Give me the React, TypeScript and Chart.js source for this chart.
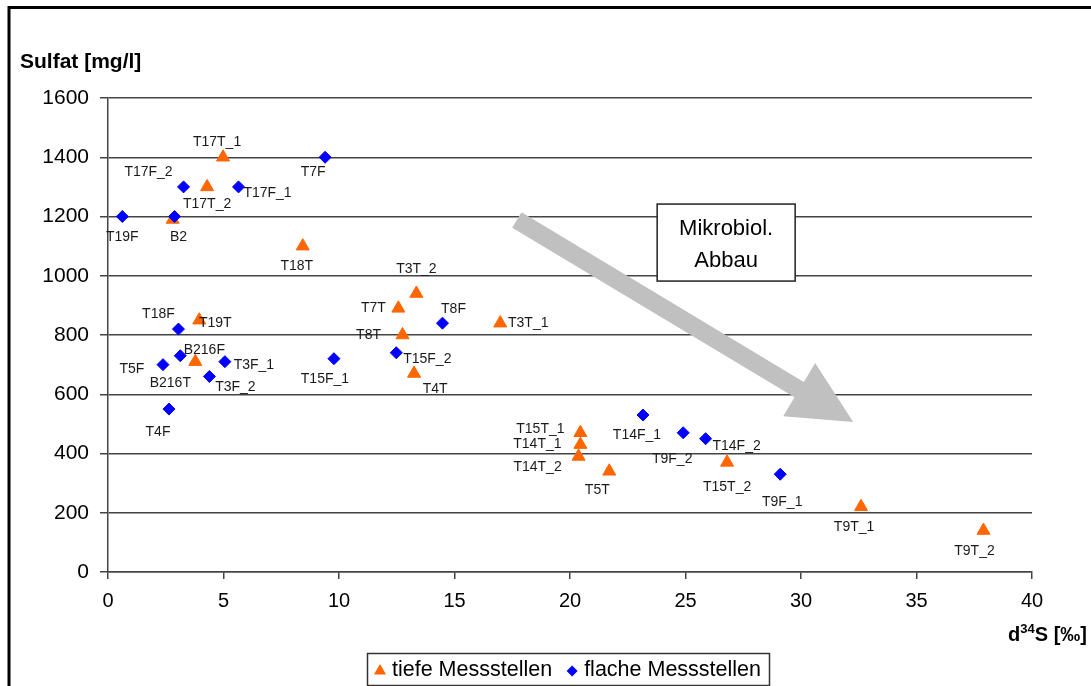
import React, { useEffect, useRef } from 'react';
import { Chart, registerables } from 'chart.js';

Chart.register(...registerables);

// ---------- data ----------
const tiefeLabels = ['T17T_1', 'T17T_2', 'B2', 'T18T', 'T19T', 'B216T', 'T3T_2', 'T7T', 'T8T', 'T3T_1', 'T4T', 'T15T_1', 'T14T_1', 'T14T_2', 'T5T', 'T15T_2', 'T9T_1', 'T9T_2'];
const tiefeX = [4.98, 4.29, 2.8, 8.43, 3.95, 3.78, 13.35, 12.57, 12.75, 16.98, 13.25, 20.45, 20.45, 20.37, 21.7, 26.8, 32.6, 37.9];
const tiefeY = [1400, 1300, 1190, 1100, 850, 710, 940, 890, 800, 840, 670, 470, 430, 390, 340, 370, 220, 140];

const flacheLabels = ['T19F', 'B2', 'T17F_2', 'T17F_1', 'T7F', 'T18F', 'B216F', 'T5F', 'T3F_1', 'T3F_2', 'T4F', 'T8F', 'T15F_2', 'T15F_1', 'T14F_1', 'T9F_2', 'T14F_2', 'T9F_1'];
const flacheX = [0.62, 2.88, 3.27, 5.65, 9.4, 3.05, 3.13, 2.38, 5.06, 4.39, 2.64, 14.48, 12.48, 9.78, 23.16, 24.9, 25.87, 29.1];
const flacheY = [1200, 1200, 1300, 1300, 1400, 820, 730, 700, 710, 660, 550, 840, 740, 720, 530, 470, 450, 330];

const seriesNames = ['tiefe Messstellen', 'flache Messstellen'];
const xTicks = [0, 5, 10, 15, 20, 25, 30, 35, 40];
const yTicks = [0, 200, 400, 600, 800, 1000, 1200, 1400, 1600];

const yTitle = 'Sulfat [mg/l]';
const xTitleParts = ['d', '34', 'S [‰]'];
const boxLines = ['Mikrobiol.', 'Abbau'];
// annotation anchors (data units)
const arrowFrom = { x: 17.7, y: 1188 };
const arrowTo = { x: 32.26, y: 506 };
const boxCenter = { x: 26.76, y: 1112 };

// ---------- label placement (pixel offsets from point) ----------
const tiefeLabelPos: Record<string, [number, number]> = {
  T17T_1: [-6, -15], T17T_2: [0, 17], T18T: [-6, 20], T19T: [16, 3], B216T: [-25, 21],
  T3T_2: [0, -24], T7T: [-25, 0], T8T: [-34, 0], T3T_1: [28, 0], T4T: [21, 16],
  T15T_1: [-40, -4], T14T_1: [-43, 0], T14T_2: [-41, 11], T5T: [-12, 19], T15T_2: [0, 25],
  T9T_1: [-7, 20], T9T_2: [-9, 21],
};
const flacheLabelPos: Record<string, [number, number]> = {
  T19F: [0, 21], B2: [4, 21], T17F_2: [-35, -15], T17F_1: [29, 6], T7F: [-12, 15],
  T18F: [-20, -15], B216F: [24, -6], T5F: [-31, 5], T3F_1: [29, 3], T3F_2: [26, 11],
  T4F: [-11, 23], T8F: [11, -14], T15F_2: [31, 6], T15F_1: [-9, 20], T14F_1: [-6, 20],
  T9F_2: [-11, 26], T14F_2: [31, 7], T9F_1: [2, 28],
};

const FONT = '"Liberation Sans", Arial, Helvetica, sans-serif';
const ORANGE = '#FF6600';
const BLUE = '#0000FF';

function drawTriangle(ctx: CanvasRenderingContext2D, x: number, y: number, r: number) {
  ctx.beginPath();
  ctx.moveTo(x, y - r);
  ctx.lineTo(x + r * Math.sin((2 * Math.PI) / 3), y - r * Math.cos((2 * Math.PI) / 3));
  ctx.lineTo(x + r * Math.sin((4 * Math.PI) / 3), y - r * Math.cos((4 * Math.PI) / 3));
  ctx.closePath();
  ctx.fill();
}
function drawDiamond(ctx: CanvasRenderingContext2D, x: number, y: number, r: number) {
  ctx.beginPath();
  ctx.moveTo(x - r, y);
  ctx.lineTo(x, y - r);
  ctx.lineTo(x + r, y);
  ctx.lineTo(x, y + r);
  ctx.closePath();
  ctx.fill();
}

const framePlugin = {
  id: 'frame',
  beforeDraw(chart: any) {
    const ctx = chart.ctx as CanvasRenderingContext2D;
    ctx.save();
    ctx.fillStyle = '#ffffff';
    ctx.fillRect(0, 0, chart.width, chart.height);
    ctx.strokeStyle = '#000';
    ctx.lineWidth = 3;
    ctx.beginPath();
    ctx.moveTo(9, chart.height + 5);
    ctx.lineTo(9, 7.5);
    ctx.lineTo(chart.width + 5, 7.5);
    ctx.stroke();
    ctx.restore();
  },
};

const arrowPlugin = {
  id: 'arrow',
  beforeDatasetsDraw(chart: any) {
    const ctx = chart.ctx as CanvasRenderingContext2D;
    const xs = chart.scales.x, ys = chart.scales.y;
    const sx = xs.getPixelForValue(arrowFrom.x), sy = ys.getPixelForValue(arrowFrom.y);
    const tx = xs.getPixelForValue(arrowTo.x), ty = ys.getPixelForValue(arrowTo.y);
    const len = Math.hypot(tx - sx, ty - sy);
    const ux = (tx - sx) / len, uy = (ty - sy) / len;
    const nx = -uy, ny = ux;
    const shaft = 9, headLen = 63, headW = 31;
    const hx = tx - ux * headLen, hy = ty - uy * headLen;
    ctx.save();
    ctx.fillStyle = '#C0C0C0';
    ctx.beginPath();
    ctx.moveTo(sx + nx * shaft, sy + ny * shaft);
    ctx.lineTo(hx + nx * shaft, hy + ny * shaft);
    ctx.lineTo(hx + nx * headW, hy + ny * headW);
    ctx.lineTo(tx, ty);
    ctx.lineTo(hx - nx * headW, hy - ny * headW);
    ctx.lineTo(hx - nx * shaft, hy - ny * shaft);
    ctx.lineTo(sx - nx * shaft, sy - ny * shaft);
    ctx.closePath();
    ctx.fill();
    ctx.restore();
  },
};

const labelPlugin = {
  id: 'pointLabels',
  afterDatasetsDraw(chart: any) {
    const ctx = chart.ctx as CanvasRenderingContext2D;
    ctx.save();
    ctx.font = `14px ${FONT}`;
    ctx.fillStyle = '#1a1a1a';
    ctx.textAlign = 'center';
    ctx.textBaseline = 'middle';
    const maps = [tiefeLabelPos, flacheLabelPos];
    const names = [tiefeLabels, flacheLabels];
    chart.data.datasets.forEach((_ds: any, di: number) => {
      const meta = chart.getDatasetMeta(di);
      meta.data.forEach((el: any, i: number) => {
        const name = names[di][i];
        const off = maps[di][name];
        if (!off) return;
        ctx.fillText(name, el.x + off[0], el.y + off[1]);
      });
    });
    ctx.restore();
  },
};

const overlayPlugin = {
  id: 'overlay',
  afterDraw(chart: any) {
    const ctx = chart.ctx as CanvasRenderingContext2D;
    const xs = chart.scales.x, ys = chart.scales.y;
    ctx.save();

    // text box
    const bx = xs.getPixelForValue(boxCenter.x), by = ys.getPixelForValue(boxCenter.y);
    const bw = 138, bh = 77;
    ctx.fillStyle = '#fff';
    ctx.fillRect(bx - bw / 2, by - bh / 2, bw, bh);
    ctx.strokeStyle = '#222';
    ctx.lineWidth = 1.5;
    ctx.strokeRect(bx - bw / 2, by - bh / 2, bw, bh);
    ctx.fillStyle = '#000';
    ctx.font = `22px ${FONT}`;
    ctx.textAlign = 'center';
    ctx.textBaseline = 'middle';
    ctx.fillText(boxLines[0], bx, by - 14);
    ctx.fillText(boxLines[1], bx, by + 18);

    // y title
    ctx.font = `bold 21px ${FONT}`;
    ctx.textAlign = 'left';
    ctx.textBaseline = 'middle';
    ctx.fillText(yTitle, 20, 62);

    // x title with superscript
    const big = `bold 20px ${FONT}`, small = `bold 13px ${FONT}`;
    ctx.textBaseline = 'alphabetic';
    ctx.font = big; const w0 = ctx.measureText(xTitleParts[0]).width;
    ctx.font = small; const w1 = ctx.measureText(xTitleParts[1]).width;
    ctx.font = big; const w2 = ctx.measureText(xTitleParts[2]).width;
    let tx = 1087 - (w0 + w1 + w2);
    const base = 641;
    ctx.font = big; ctx.fillText(xTitleParts[0], tx, base); tx += w0;
    ctx.font = small; ctx.fillText(xTitleParts[1], tx, base - 8); tx += w1;
    ctx.font = big; ctx.fillText(xTitleParts[2], tx, base);

    // legend
    const lx = 367.5, ly = 653.5, lw = 402, lh = 32;
    ctx.fillStyle = '#fff';
    ctx.fillRect(lx, ly, lw, lh);
    ctx.strokeStyle = '#333';
    ctx.lineWidth = 1.5;
    ctx.strokeRect(lx, ly, lw, lh);
    ctx.font = `21.5px ${FONT}`;
    ctx.textBaseline = 'middle';
    ctx.textAlign = 'left';
    let cx = 380;
    const cy = 670;
    chart.data.datasets.forEach((ds: any) => {
      ctx.fillStyle = ds.backgroundColor;
      if (ds.pointStyle === 'triangle') drawTriangle(ctx, cx, cy + 1, 7);
      else drawDiamond(ctx, cx, cy + 1, 5.5);
      ctx.fillStyle = '#000';
      const tStart = cx + 12;
      ctx.fillText(ds.label, tStart, cy);
      cx = tStart + ctx.measureText(ds.label).width + 20;
    });

    ctx.restore();
  },
};

export default function App() {
  const ref = useRef<HTMLCanvasElement>(null);
  useEffect(() => {
    if (!ref.current) return;
    const chart = new Chart(ref.current, {
      type: 'scatter',
      data: {
        datasets: [
          {
            label: seriesNames[0],
            data: tiefeX.map((x, i) => ({ x, y: tiefeY[i] })),
            pointStyle: 'triangle',
            backgroundColor: ORANGE,
            borderColor: ORANGE,
            borderWidth: 1,
            pointRadius: 7.5,
            order: 1,
          },
          {
            label: seriesNames[1],
            data: flacheX.map((x, i) => ({ x, y: flacheY[i] })),
            pointStyle: 'rectRot',
            backgroundColor: BLUE,
            borderColor: BLUE,
            borderWidth: 1,
            pointRadius: 6,
            order: 0,
          },
        ],
      },
      options: {
        responsive: false,
        animation: false,
        devicePixelRatio: 1,
        layout: { padding: { top: 98, right: 59, left: 0, bottom: 0 } },
        plugins: { legend: { display: false }, tooltip: { enabled: false }, title: { display: false } },
        scales: {
          x: {
            type: 'linear',
            min: 0,
            max: 40,
            afterBuildTicks: (s: any) => { s.ticks = xTicks.map((v) => ({ value: v })); },
            afterFit: (s: any) => { s.height = 114; },
            ticks: { font: { size: 20, family: FONT }, color: '#000', padding: 10, maxRotation: 0, autoSkip: false, callback: (v: any) => String(v) },
            grid: { drawOnChartArea: false, drawTicks: true, tickLength: 7, color: '#444', lineWidth: 1.5 },
            border: { color: '#444', width: 1.5 },
          },
          y: {
            type: 'linear',
            min: 0,
            max: 1600,
            afterBuildTicks: (s: any) => { s.ticks = yTicks.map((v) => ({ value: v })); },
            afterFit: (s: any) => { s.width = 108; },
            ticks: { font: { size: 21, family: FONT }, color: '#000', padding: 11, autoSkip: false, callback: (v: any) => String(v) },
            grid: { color: '#444', lineWidth: 1.5, tickLength: 8, drawTicks: true },
            border: { color: '#444', width: 1.5 },
          },
        },
      },
      plugins: [framePlugin, arrowPlugin, labelPlugin, overlayPlugin],
    });
    return () => chart.destroy();
  }, []);
  return (
    <div style={{ position: 'absolute', left: 0, top: 0, width: 1091, height: 686 }}>
      <canvas ref={ref} width={1091} height={686} style={{ display: 'block', width: 1091, height: 686 }} />
    </div>
  );
}
